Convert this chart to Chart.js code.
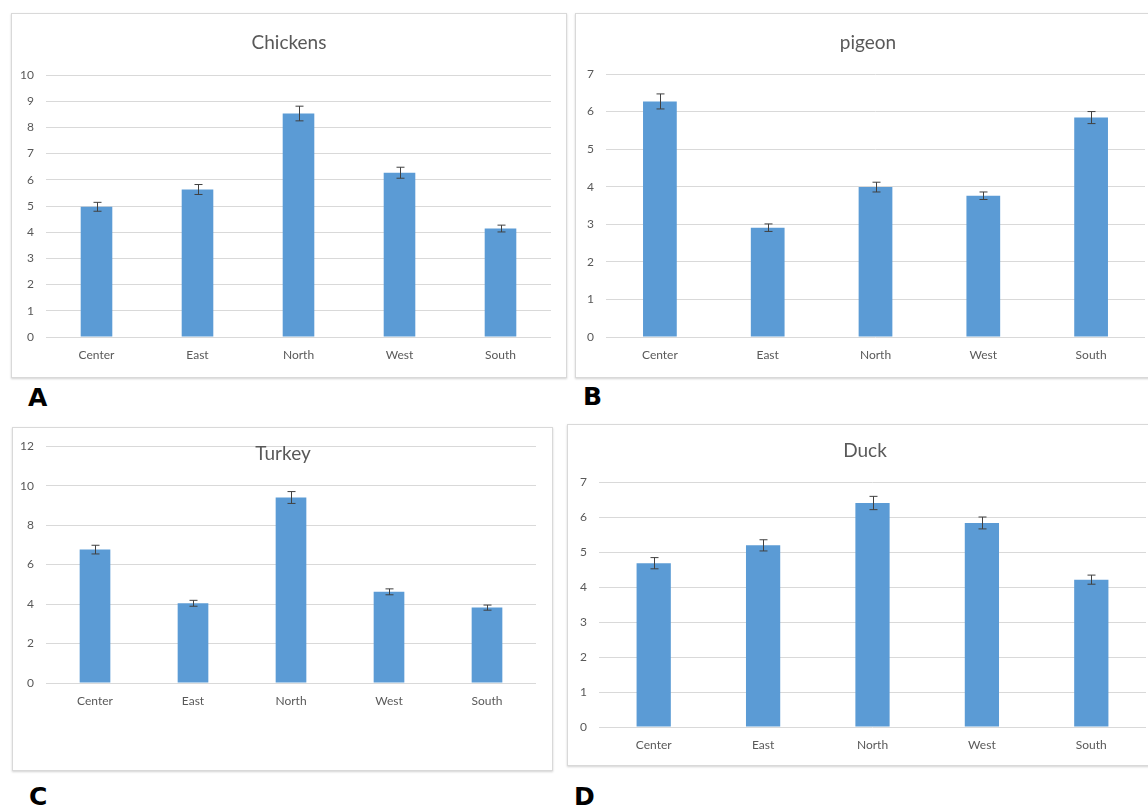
<!DOCTYPE html>
<html>
<head>
<meta charset="utf-8">
<script src="https://cdn.jsdelivr.net/npm/chart.js@4"></script>
<style>
  html, body { margin: 0; padding: 0; background: #fff; }
  body { width: 1148px; height: 807px; position: relative; overflow: hidden; font-family: Lato, "Open Sans", sans-serif; }
  .box { position: absolute; border: 1px solid #d9d9d9; box-shadow: 0 1px 2px rgba(0,0,0,0.18); background: #fff; }
  canvas { position: absolute; }
  .title { position: absolute; width: 200px; text-align: center; font-size: 19px; color: #595959; line-height: 22px; }
  .letter { position: absolute; font-family: "DejaVu Sans", sans-serif; font-weight: bold; font-size: 25px; color: #000; line-height: 28px; }
</style>
</head>
<body>
<div class="box" style="left:11px;top:13px;width:554px;height:363px"></div>
<div class="box" style="left:575px;top:13px;width:600px;height:363px"></div>
<div class="box" style="left:12px;top:427px;width:539px;height:342px"></div>
<div class="box" style="left:567px;top:424px;width:600px;height:340px"></div>

<canvas id="chickens" width="555" height="364" style="left:11px;top:13px"></canvas>
<canvas id="pigeon" width="573" height="364" style="left:575px;top:13px"></canvas>
<canvas id="turkey" width="540" height="343" style="left:12px;top:427px"></canvas>
<canvas id="duck" width="581" height="341" style="left:567px;top:424px"></canvas>

<div class="title" style="left:189px;top:31px">Chickens</div>
<div class="title" style="left:768px;top:31px">pigeon</div>
<div class="title" style="left:183px;top:442px">Turkey</div>
<div class="title" style="left:765px;top:439px">Duck</div>

<div class="letter" style="left:28px;top:384px">A</div>
<div class="letter" style="left:583px;top:383px">B</div>
<div class="letter" style="left:29px;top:783px">C</div>
<div class="letter" style="left:574px;top:783px">D</div>

<script>
// regions on the x axis
var categories = ["Center", "East", "North", "West", "South"];

// bar heights and error bar half-lengths
var chickenValues = [4.97, 5.63, 8.53, 6.27, 4.14];
var chickenErrors = [0.17, 0.19, 0.28, 0.21, 0.13];

var pigeonValues = [6.27, 2.91, 3.99, 3.76, 5.84];
var pigeonErrors = [0.2, 0.1, 0.13, 0.1, 0.16];

var turkeyValues = [6.76, 4.04, 9.4, 4.62, 3.82];
var turkeyErrors = [0.22, 0.15, 0.3, 0.15, 0.13];

var duckValues = [4.68, 5.19, 6.4, 5.83, 4.21];
var duckErrors = [0.16, 0.16, 0.19, 0.17, 0.13];

// y axis ranges
var chickenYMax = 10, chickenYStep = 1;
var pigeonYMax = 7, pigeonYStep = 1;
var turkeyYMax = 12, turkeyYStep = 2;
var duckYMax = 7, duckYStep = 1;

// Draw error bars from the bar elements and the y scale
var errorBarPlugin = {
  id: "errorBars",
  afterDatasetsDraw: function (chart) {
    var ctx = chart.ctx;
    var yScale = chart.scales.y;
    var ds = chart.data.datasets[0];
    var meta = chart.getDatasetMeta(0);
    ctx.save();
    ctx.strokeStyle = "#404040";
    ctx.lineWidth = 1;
    meta.data.forEach(function (bar, i) {
      var v = ds.data[i];
      var e = ds.errors[i];
      var x = Math.round(bar.x) + 0.5;
      var yTop = yScale.getPixelForValue(v + e);
      var yBot = yScale.getPixelForValue(v - e);
      ctx.beginPath();
      ctx.moveTo(x, yTop);
      ctx.lineTo(x, yBot);
      ctx.moveTo(x - 4, yTop);
      ctx.lineTo(x + 4, yTop);
      ctx.moveTo(x - 4, yBot);
      ctx.lineTo(x + 4, yBot);
      ctx.stroke();
    });
    ctx.restore();
  },
};

// pad = distance from canvas edges to the plot area
function makeChart(id, values, errors, yMax, yStep, pad) {
  var yWidth = 34;
  var xHeight = 40;
  var ctx = document.getElementById(id).getContext("2d");
  return new Chart(ctx, {
    type: "bar",
    data: {
      labels: categories,
      datasets: [
        {
          data: values,
          errors: errors,
          backgroundColor: "#5b9bd5",
          borderWidth: 0,
          barPercentage: 0.313,
          categoryPercentage: 1,
        },
      ],
    },
    options: {
      responsive: false,
      animation: false,
      layout: {
        padding: {
          left: pad.left - yWidth,
          top: pad.top,
          right: pad.right,
          bottom: pad.bottom - xHeight,
        },
      },
      plugins: {
        legend: { display: false },
        tooltip: { enabled: false },
        title: { display: false },
      },
      scales: {
        x: {
          grid: { display: false, drawTicks: false },
          border: { display: false },
          ticks: {
            color: "#595959",
            font: { family: "Lato", size: 12 },
            padding: 11,
            maxRotation: 0,
          },
          afterFit: function (scale) {
            scale.height = xHeight;
          },
        },
        y: {
          min: 0,
          max: yMax,
          grid: { color: "#d9d9d9", drawTicks: false },
          border: { display: false },
          ticks: {
            stepSize: yStep,
            color: "#595959",
            font: { family: "Lato", size: 12 },
            padding: 12,
          },
          afterFit: function (scale) {
            scale.width = yWidth;
          },
        },
      },
    },
    plugins: [errorBarPlugin],
  });
}

makeChart("chickens", chickenValues, chickenErrors, chickenYMax, chickenYStep,
  { left: 35, top: 62, right: 15, bottom: 40 });
makeChart("pigeon", pigeonValues, pigeonErrors, pigeonYMax, pigeonYStep,
  { left: 31, top: 61, right: 3, bottom: 40 });
makeChart("turkey", turkeyValues, turkeyErrors, turkeyYMax, turkeyYStep,
  { left: 34, top: 8, right: 16, bottom: 87 });
makeChart("duck", duckValues, duckErrors, duckYMax, duckYStep,
  { left: 32, top: 58, right: 2, bottom: 38 });
</script>
</body>
</html>
